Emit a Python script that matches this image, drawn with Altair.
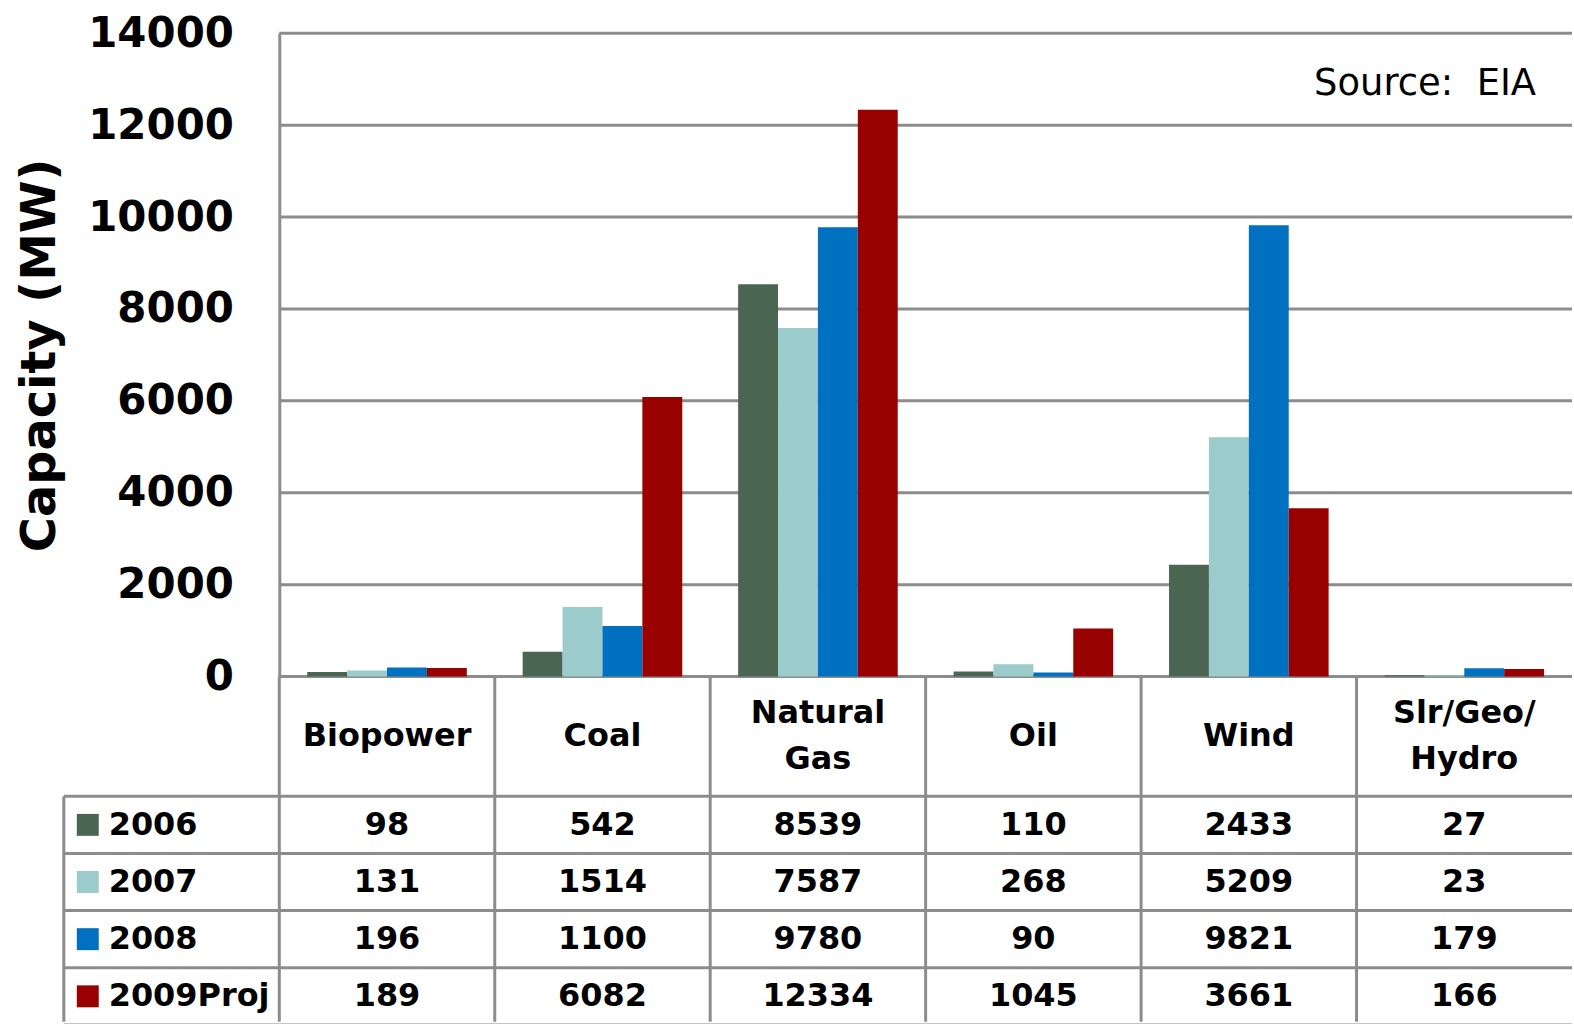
import altair as alt
import pandas as pd

# ---------------- data ----------------
LEG = " "
categories = ["Biopower", "Coal", "Natural Gas", "Oil", "Wind", "Slr/Geo/Hydro"]
header_labels = ["Biopower", "Coal", "Natural\nGas", "Oil", "Wind", "Slr/Geo/\nHydro"]
years = ["2006", "2007", "2008", "2009Proj"]
colors = ["#4A6652", "#9BCBCB", "#0070C0", "#990000"]
v2006 = [98, 542, 8539, 110, 2433, 27]
v2007 = [131, 1514, 7587, 268, 5209, 23]
v2008 = [196, 1100, 9780, 90, 9821, 179]
v2009 = [189, 6082, 12334, 1045, 3661, 166]
y_ticks = [0, 2000, 4000, 6000, 8000, 10000, 12000, 14000]
source_note = ["Source:\u00a0 EIA"]

# ---------------- layout / style ----------------
W = 1512
COLW = W / 7
H_TOP = 645
H_TAB = 346
ROW_PX = 57.3
HDR_PX = 120
T_MAX = H_TAB / ROW_PX          # table height in row units
HB = HDR_PX / ROW_PX            # header bottom in row units
FONT = "DejaVu Sans"
GRID = "#8C8C8C"

cols = [LEG] + categories
xscale = alt.Scale(domain=cols, paddingInner=0, paddingOuter=0)
color_scale = alt.Scale(domain=years, range=colors)
yscale = alt.Scale(domain=[0, 14000], nice=False, zero=True)
tscale = alt.Scale(domain=[0, T_MAX], reverse=True, nice=False, zero=False)

rows = []
for yi, (yr, vals) in enumerate(zip(years, [v2006, v2007, v2008, v2009])):
    for c, v in zip(categories, vals):
        rows.append({"cat": c, "year": yr, "value": v, "row": HB + 0.5 + yi})
df = pd.DataFrame(rows)

yaxis = alt.Axis(
    values=y_ticks,
    format="d",
    grid=False,
    ticks=False,
    tickSize=0,
    domain=True,
    domainColor=GRID,
    domainWidth=3,
    offset=-COLW,
    labelFont=FONT,
    labelFontSize=42,
    labelFontWeight="bold",
    labelColor="black",
    labelPadding=46,
    labelFlush=False,
    labelOverlap=False,
    title="Capacity (MW)",
    titleFont=FONT,
    titleFontSize=48,
    titleFontWeight="bold",
    titleColor="black",
    titleAngle=270,
    titleAlign="center",
    titleBaseline="bottom",
    titleX=-215,
)

# ---------------- top: bars ----------------
grid = alt.Chart(pd.DataFrame({"v": y_ticks})).mark_rule(
    color=GRID, strokeWidth=3
).encode(
    y=alt.Y("v:Q", scale=yscale, axis=yaxis),
    x=alt.value(COLW),
    x2=alt.value(W),
)

bars = alt.Chart(df).mark_bar().encode(
    x=alt.X("cat:N", scale=xscale, axis=None),
    xOffset=alt.XOffset("year:N", scale=alt.Scale(domain=years, paddingInner=0, paddingOuter=0.7)),
    y=alt.Y("value:Q", scale=yscale, axis=yaxis),
    color=alt.Color("year:N", scale=color_scale, legend=None),
)

src = alt.Chart(pd.DataFrame({"t": source_note})).mark_text(
    align="right", baseline="alphabetic", font=FONT, fontSize=37, color="black"
).encode(x=alt.value(1476), y=alt.value(62), text="t:N")

top = alt.layer(grid, bars, src).properties(width=W, height=H_TOP)

# ---------------- bottom: data table ----------------
hlines = alt.Chart(pd.DataFrame({"r": [HB + i for i in range(5)]})).mark_rule(
    color=GRID, strokeWidth=3
).encode(
    y=alt.Y("r:Q", scale=tscale, axis=None),
    x=alt.value(0),
    x2=alt.value(W),
)

vrows = [{"c": c, "y0": 0, "y1": T_MAX} for c in categories] + [{"c": LEG, "y0": HB, "y1": T_MAX}]
vlines = alt.Chart(pd.DataFrame(vrows)).mark_rule(color=GRID, strokeWidth=3).encode(
    x=alt.X("c:N", scale=xscale, axis=None, bandPosition=0),
    y=alt.Y("y0:Q", scale=tscale, axis=None),
    y2="y1:Q",
)

# header lines, each line of a two-line label shifted half a line up/down
LINE_H = 46 / ROW_PX
hrows = []
for c, lab in zip(categories, header_labels):
    parts = lab.split("\n")
    n = len(parts)
    for i, p in enumerate(parts):
        hrows.append({"cat": c, "line": p, "r": HB / 2 + (i - (n - 1) / 2) * LINE_H})

hdr = alt.Chart(pd.DataFrame(hrows)).mark_text(
    font=FONT, fontSize=32, fontWeight="bold", color="black", baseline="middle",
).encode(
    x=alt.X("cat:N", scale=xscale, axis=None),
    y=alt.Y("r:Q", scale=tscale, axis=None),
    text="line:N",
)

cells = alt.Chart(df).mark_text(
    font=FONT, fontSize=32, fontWeight="bold", color="black", baseline="middle"
).encode(
    x=alt.X("cat:N", scale=xscale, axis=None),
    y=alt.Y("row:Q", scale=tscale, axis=None),
    text=alt.Text("value:Q", format="d"),
)

ldf = pd.DataFrame({"col": [LEG] * 4, "year": years, "row": [HB + 0.5 + i for i in range(4)]})
lsq = alt.Chart(ldf).mark_square(size=484, opacity=1, xOffset=24).encode(
    x=alt.X("col:N", scale=xscale, axis=None, bandPosition=0),
    y=alt.Y("row:Q", scale=tscale, axis=None),
    color=alt.Color("year:N", scale=color_scale, legend=None),
)
ltxt = alt.Chart(ldf).mark_text(
    align="left", baseline="middle", xOffset=45,
    font=FONT, fontSize=32, fontWeight="bold", color="black",
).encode(
    x=alt.X("col:N", scale=xscale, axis=None, bandPosition=0),
    y=alt.Y("row:Q", scale=tscale, axis=None),
    text="year:N",
)

bottom = alt.layer(hlines, vlines, hdr, cells, lsq, ltxt).properties(width=W, height=H_TAB)

chart = alt.vconcat(top, bottom, spacing=0, bounds="flush").properties(
    padding={"left": 17, "top": 11, "right": 0, "bottom": 0}
).configure_view(stroke=None)

chart.save("out.html", embed_options={"renderer": "svg", "actions": False})
